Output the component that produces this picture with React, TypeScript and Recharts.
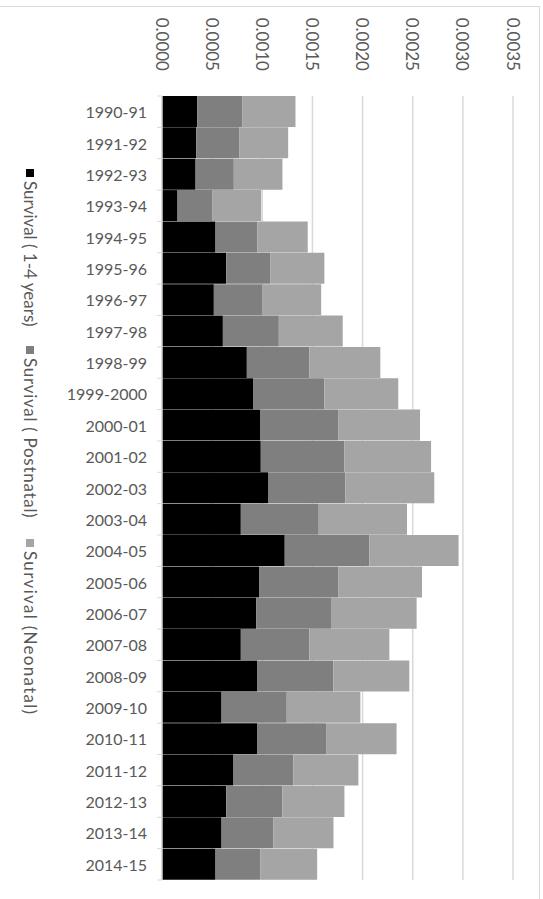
import React from 'react';
import { BarChart, Bar, XAxis, YAxis, CartesianGrid } from 'recharts';

const years = [
  '1990-91', '1991-92', '1992-93', '1993-94', '1994-95', '1995-96', '1996-97', '1997-98',
  '1998-99', '1999-2000', '2000-01', '2001-02', '2002-03', '2003-04', '2004-05', '2005-06',
  '2006-07', '2007-08', '2008-09', '2009-10', '2010-11', '2011-12', '2012-13', '2013-14', '2014-15',
];

const survival1to4 = [
  0.000352, 0.000342, 0.000335, 0.000155, 0.000534, 0.000640, 0.000517, 0.000607,
  0.000846, 0.000912, 0.000982, 0.000985, 0.001062, 0.000786, 0.001224, 0.000972,
  0.000939, 0.000786, 0.000952, 0.000594, 0.000952, 0.000713, 0.000640, 0.000594, 0.000534,
];

const survivalPostnatal = [
  0.000451, 0.000431, 0.000381, 0.000346, 0.000418, 0.000438, 0.000485, 0.000558,
  0.000624, 0.000707, 0.000774, 0.000834, 0.000767, 0.000777, 0.000844, 0.000784,
  0.000753, 0.000684, 0.000757, 0.000650, 0.000684, 0.000598, 0.000561, 0.000518, 0.000448,
];

const survivalNeonatal = [
  0.000528, 0.000485, 0.000485, 0.000488, 0.000501, 0.000541, 0.000585, 0.000637,
  0.000707, 0.000737, 0.000817, 0.000864, 0.000886, 0.000880, 0.000889, 0.000837,
  0.000847, 0.000797, 0.000757, 0.000734, 0.000703, 0.000647, 0.000618, 0.000598, 0.000565,
];

const valueTicks = [0, 0.0005, 0.001, 0.0015, 0.002, 0.0025, 0.003, 0.0035];

const seriesNames = ['Survival ( 1-4 years)', 'Survival ( Postnatal)', 'Survival (Neonatal)'];
const seriesKeys = ['s14', 'post', 'neo'];
const seriesColors = ['#000000', '#7f7f7f', '#a5a5a5'];

const data = years.map((year, i) => ({
  year,
  s14: survival1to4[i],
  post: survivalPostnatal[i],
  neo: survivalNeonatal[i],
}));

const FONT = 'Lato, "Open Sans", sans-serif';
const TEXT = '#595959';
const GRID = '#d9d9d9';

const W = 543;
const H = 899;
const MARGIN = { top: 6, right: 30, bottom: 19, left: 0 };
const X_AXIS_H = 90;
const Y_AXIS_W = 162;
const PLOT_H = H - MARGIN.top - MARGIN.bottom - X_AXIS_H;
const BAND = PLOT_H / years.length;
const LEGEND_ITEM_W = [177, 193, 200];

const ValueTick = (props: any) => {
  const { x, y, payload } = props;
  const ty = y - 25;
  return (
    <text
      x={x}
      y={ty}
      transform={`rotate(90, ${x}, ${ty})`}
      textAnchor="end"
      dominantBaseline="central"
      fontSize={17}
      fontFamily={FONT}
      fill={TEXT}
    >
      {Number(payload.value).toFixed(4)}
    </text>
  );
};

const CatTick = (props: any) => {
  const { x, y, payload, index } = props;
  return (
    <g>
      <text
        x={x - 15}
        y={y}
        textAnchor="end"
        dominantBaseline="central"
        fontSize={16}
        fontFamily={FONT}
        fill={TEXT}
      >
        {payload.value}
      </text>
      <line x1={x - 5} x2={x} y1={y - BAND / 2} y2={y - BAND / 2} stroke={GRID} />
      {index === years.length - 1 && (
        <line x1={x - 5} x2={x} y1={y + BAND / 2} y2={y + BAND / 2} stroke={GRID} />
      )}
    </g>
  );
};

export default function App() {
  return (
    <div
      style={{
        position: 'absolute',
        left: 0,
        top: 0,
        width: W,
        height: H,
        overflow: 'hidden',
        background: '#fff',
      }}
    >
      <div
        style={{
          position: 'absolute',
          left: 0,
          top: 6,
          width: 539,
          height: 900,
          borderTop: `1px solid ${GRID}`,
          borderRight: `1px solid ${GRID}`,
        }}
      />
      <div style={{ position: 'absolute', left: 0, top: 0 }}>
        <BarChart
          width={W}
          height={H}
          data={data}
          layout="vertical"
          margin={MARGIN}
          barCategoryGap={0}
        >
          <CartesianGrid horizontal={false} stroke={GRID} strokeWidth={1.5} />
          <XAxis
            type="number"
            orientation="top"
            height={X_AXIS_H}
            domain={[0, 0.0035]}
            ticks={valueTicks}
            tick={<ValueTick />}
            tickSize={0}
            tickMargin={0}
            axisLine={false}
            interval={0}
          />
          <YAxis
            type="category"
            dataKey="year"
            width={Y_AXIS_W}
            tick={<CatTick />}
            tickSize={0}
            tickMargin={0}
            tickLine={false}
            axisLine={{ stroke: GRID, strokeWidth: 1.5 }}
            interval={0}
          />
          {seriesKeys.map((k, i) => (
            <Bar
              key={k}
              dataKey={k}
              name={seriesNames[i]}
              stackId="a"
              fill={seriesColors[i]}
              isAnimationActive={false}
            />
          ))}
        </BarChart>
      </div>
      <div
        style={{
          position: 'absolute',
          left: 40,
          top: 169,
          width: 600,
          height: 20,
          transform: 'rotate(90deg)',
          transformOrigin: '0 0',
          display: 'flex',
          alignItems: 'center',
          fontFamily: FONT,
          fontSize: 17,
          lineHeight: '20px',
          color: TEXT,
          whiteSpace: 'nowrap',
        }}
      >
        {seriesNames.map((n, i) => (
          <div
            key={n}
            style={{
              display: 'flex',
              alignItems: 'center',
              width: LEGEND_ITEM_W[i],
              letterSpacing: i === 0 ? 0 : i === 1 ? 0.7 : 1.3,
            }}
          >
            <span
              style={{
                display: 'inline-block',
                width: 8,
                height: 8,
                background: seriesColors[i],
                marginRight: 4,
                flexShrink: 0,
              }}
            />
            <span>{n}</span>
          </div>
        ))}
      </div>
    </div>
  );
}
